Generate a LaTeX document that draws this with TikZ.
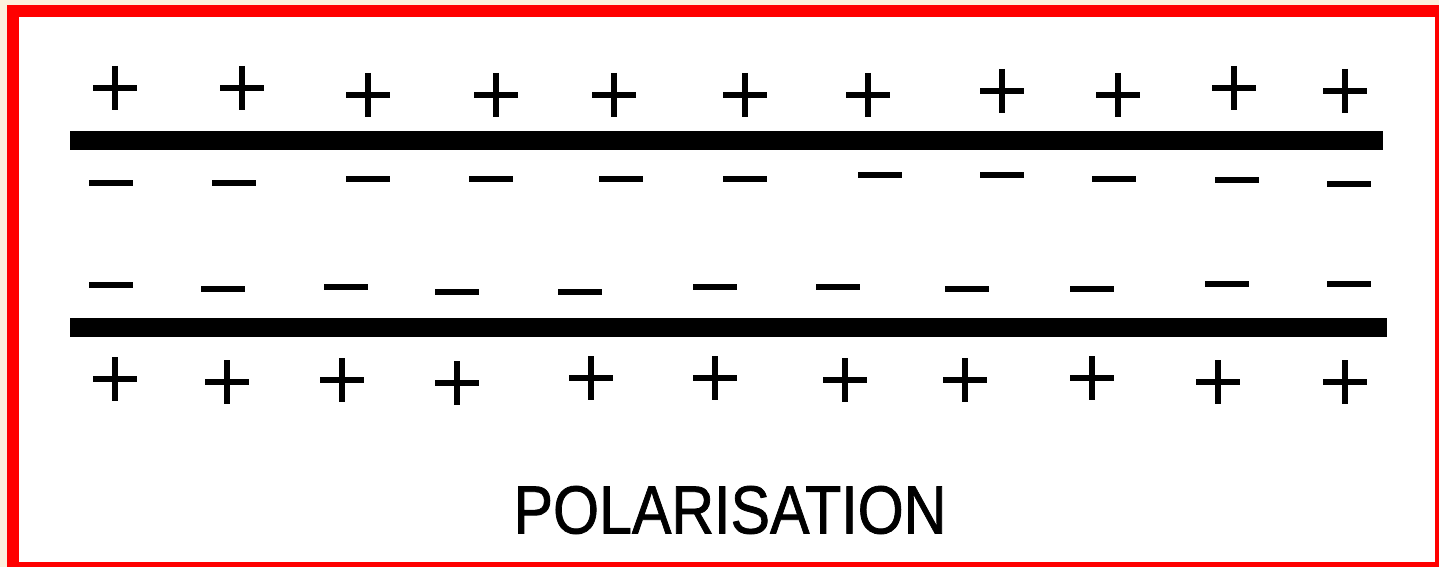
\documentclass[tikz,border=0pt]{standalone}
\usepackage{fontspec}
\setmainfont{Liberation Sans}
\newfontfamily\labelfont[FakeBold=1.2]{Liberation Sans}
\definecolor{cream}{HTML}{FCF0DD}
\definecolor{framered}{HTML}{FF0000}
\tikzset{
  chargeline/.style={line width=4.5, line cap=butt},
  plate/.style={fill=black},
  pluscharge/.pic={\draw[chargeline] (-22,0) -- (22,0) (0,-22) -- (0,22);},
  minuscharge/.pic={\draw[chargeline] (-22,0) -- (22,0);},
}
\begin{document}
\begin{tikzpicture}[x=0.75pt,y=-0.75pt]
\useasboundingbox (0,0) rectangle (1439,567);
\fill[cream] (0,0) rectangle (1439,567);
\fill[framered] (7,5) rectangle (1439,567);
\fill[white] (19,17) rectangle (1435,562);
% plates
\fill[plate] (70,131) rectangle (1383,150);
\fill[plate] (70,318) rectangle (1387,337);
% top plus row
\foreach \x/\y in {115/88,242/88,368/95,496/95,614/95,745/95,868/95,1002/91,1118/95,1234/88,1345/91}
  \pic at (\x,\y) {pluscharge};
% top minus row
\foreach \x/\y in {111/183,234/183,368/179,491/179,621/179,745/179,880/175,1002/175,1114/179,1237/180,1349/184}
  \pic at (\x,\y) {minuscharge};
% lower minus row
\foreach \x/\y in {111/285,223/289,346/287,457/292,580/292,715/287,838/287,967/289,1092/289,1227/284,1349/284}
  \pic at (\x,\y) {minuscharge};
% bottom plus row
\foreach \x/\y in {115/379,227/382,342/380,457/383,591/378,715/378,845/380,965/380,1092/378,1218/382,1345/382}
  \pic at (\x,\y) {pluscharge};
\node (label) at (730,510) {\scalebox{0.87}[1]{\labelfont\fontsize{51pt}{51pt}\selectfont POLARISATION}};
\end{tikzpicture}
\end{document}
